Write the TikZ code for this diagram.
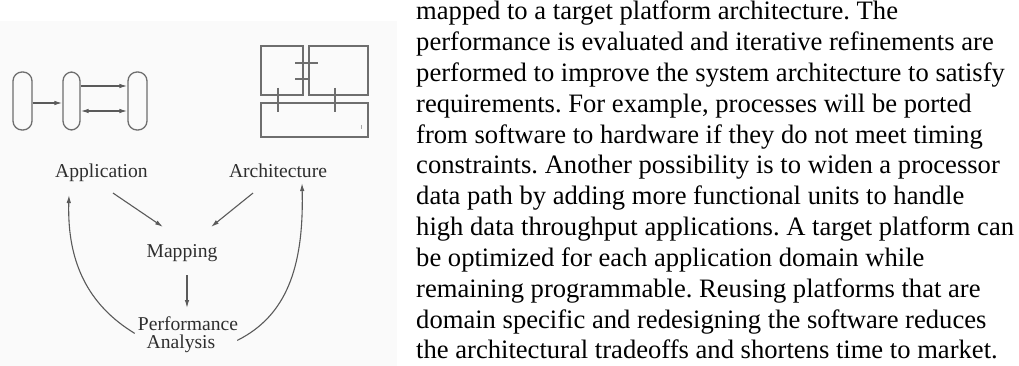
\documentclass[tikz,border=0pt]{standalone}
\usepackage{fontspec}
\setmainfont{Liberation Serif}
\usetikzlibrary{arrows.meta,calc}
\frenchspacing
\definecolor{linegray}{HTML}{5A5A5A}
\definecolor{boxgray}{HTML}{6E6E6E}
\definecolor{labelgray}{HTML}{2E2E2E}
\begin{document}
\begin{tikzpicture}[x=1pt,y=-1pt,
  body/.style={anchor=base west,inner sep=0pt,font=\fontsize{26.6}{30.8}\selectfont,text=black},
  lbl/.style={inner sep=0pt,text height=13.4pt,text depth=4.3pt,font=\fontsize{19.6}{16}\selectfont,text=labelgray},
  lblb/.style={anchor=base,inner sep=0pt,font=\fontsize{19.6}{16}\selectfont,text=labelgray},
  oval/.style={draw=boxgray,line width=1.3pt,minimum height=58pt,inner sep=0pt,rounded corners=9pt},
  smallarr/.style={draw=linegray,line width=1.2pt,-{Latex[length=8pt,width=4.5pt]}},
  smallbi/.style={draw=linegray,line width=1.2pt,{Latex[length=8pt,width=4.5pt]}-{Latex[length=8pt,width=4.5pt]}},
  arr/.style={draw=linegray,line width=1.1pt,-{Latex[length=8pt,width=4.5pt]}},
  archbox/.style={draw=boxgray,line width=1.8pt,inner sep=0pt},
  tick/.style={draw=boxgray,line width=1.8pt}]
\useasboundingbox (0,0) rectangle (1019,366);
\fill[black!2] (0,21) rectangle (397,366);

% application process graph
\node[oval,minimum width=19pt] (o1) at (22.5,101) {};
\node[oval,minimum width=17pt] (o2) at (71.5,101) {};
\node[oval,minimum width=19pt] (o3) at (137.5,101) {};
\draw[smallarr] ($(o1.east)+(0,2)$) -- ($(o2.west)+(0,2)$);
\draw[smallarr] ($(o2.east)+(0,-15)$) -- ($(o3.west)+(0,-15)$);
\draw[smallbi] ($(o2.east)+(0,10)$) -- ($(o3.west)+(0,10)$);

% architecture blocks
\node[archbox,minimum width=42pt,minimum height=49pt] (ba) at (282,70.5) {};
\node[archbox,minimum width=59pt,minimum height=49pt] (bb) at (338.5,70.5) {};
\node[archbox,minimum width=107pt,minimum height=34pt] (bc) at (314.5,120) {};
\draw[tick] (295,63) -- (318,63);
\draw[tick] (295,79) -- (310,79);
\draw[tick] (278,88) -- (278,112);
\draw[tick] (335,88) -- (335,112);
\draw[draw=black!35,line width=0.8pt] (361,125) -- (361,129);

% Y-chart labels
\node[lbl] (app) at (101.5,173) {Application};
\node[lbl] (arch) at (278,173) {Architecture};
\node[lbl] (map) at (182,253) {Mapping};
\node[lblb] (perf) at (188,330) {Performance};
\node[lblb] (anal) at (181,348) {Analysis};

\draw[arr] ($(app.south)+(11.5,11)$) -- ($(map.north)+(-19,-17)$);
\draw[arr] ($(arch.south)+(-25,11)$) -- ($(map.north)+(29,-17)$);
\draw[arr] ($(map.south)+(5,13)$) -- ($(perf.north)+(-1,-8)$);
\draw[arr] ($(perf.south west)+(-3,3)$) .. controls (88,305) and (67,262) .. ($(app.south)+(-32.5,13)$);
\draw[arr] ($(perf.south east)+(-1,10)$) .. controls (286,316) and (304,268) .. ($(arch.south)+(24,1)$);

% body text
\node[body] (t1) at (416,20) {mapped to a target platform architecture. The};
\node[body] (t2) at (416,50.8) {performance is evaluated and iterative refinements are};
\node[body] (t3) at (416,81.6) {performed to improve the system architecture to satisfy};
\node[body] (t4) at (416,112.4) {requirements. For example, processes will be ported};
\node[body] (t5) at (416,143.2) {from software to hardware if they do not meet timing};
\node[body] (t6) at (416,174) {constraints. Another possibility is to widen a processor};
\node[body] (t7) at (416,204.8) {data path by adding more functional units to handle};
\node[body] (t8) at (416,235.6) {high data throughput applications. A target platform can};
\node[body] (t9) at (416,266.4) {be optimized for each application domain while};
\node[body] (t10) at (416,297.2) {remaining programmable. Reusing platforms that are};
\node[body] (t11) at (416,328) {domain specific and redesigning the software reduces};
\node[body] (t12) at (416,358.8) {the architectural tradeoffs and shortens time to market.};
\end{tikzpicture}
\end{document}
